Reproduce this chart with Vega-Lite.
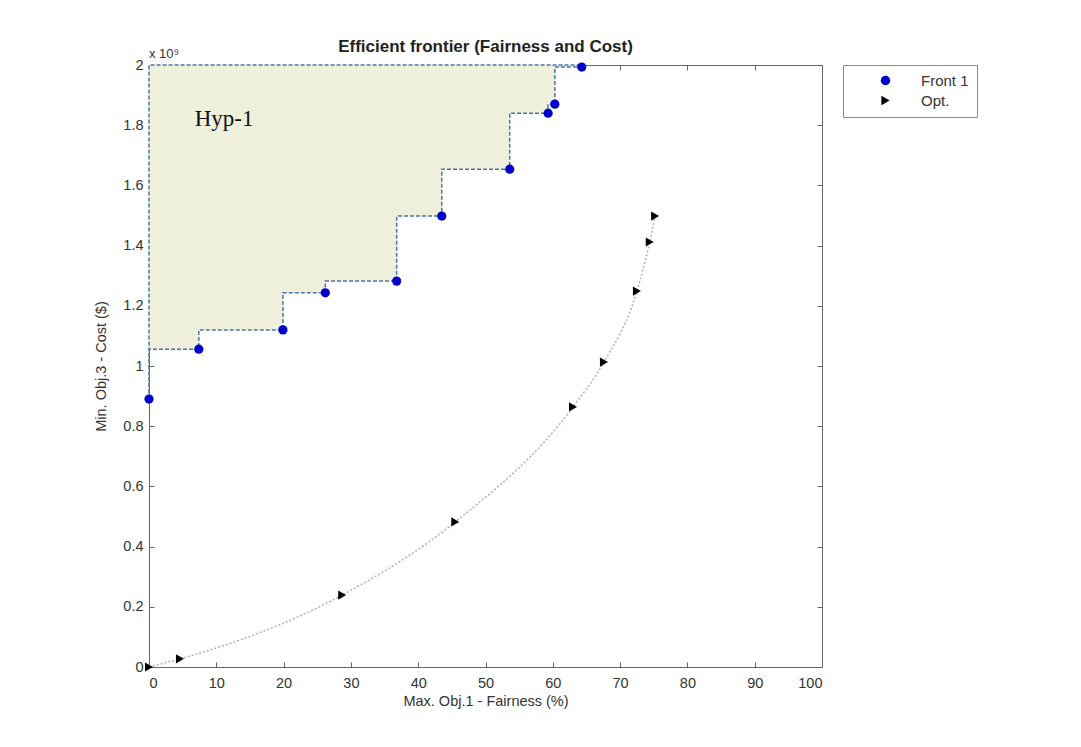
{
  "$schema": "https://vega.github.io/schema/vega-lite/v6.json",
  "autosize": "none",
  "width": 673,
  "height": 602,
  "padding": {"left": 149, "top": 65, "right": 259, "bottom": 80},
  "background": "white",
  "config": {
    "font": "Liberation Sans",
    "view": {"stroke": "#666", "strokeWidth": 1},
    "axis": {"grid": false, "domain": false, "tickColor": "#666", "tickSize": -5, "labelColor": "#333", "labelFontSize": 14.5, "titleFontSize": 14.5, "titleFontWeight": "normal", "titleColor": "#333", "labelFont": "Liberation Sans", "titleFont": "Liberation Sans"},
    "legend": {"offset": 20, "padding": 8, "strokeColor": "#888", "fillColor": "white", "labelFontSize": 15, "labelColor": "#333", "labelFont": "Liberation Sans", "symbolSize": 90, "symbolOffset": 27, "labelOffset": 28, "rowPadding": 4, "labelLimit": 200}
  },
  "title": {"text": "Efficient frontier (Fairness and Cost)", "fontSize": 17, "fontWeight": "bold", "font": "Liberation Sans", "color": "#222", "offset": -8},
  "datasets": {
    "front": [
      {"fairness": 0, "cost": 0.890, "series": "Front 1"},
      {"fairness": 7.4, "cost": 1.056, "series": "Front 1"},
      {"fairness": 19.9, "cost": 1.120, "series": "Front 1"},
      {"fairness": 26.2, "cost": 1.243, "series": "Front 1"},
      {"fairness": 36.8, "cost": 1.282, "series": "Front 1"},
      {"fairness": 43.5, "cost": 1.498, "series": "Front 1"},
      {"fairness": 53.6, "cost": 1.654, "series": "Front 1"},
      {"fairness": 59.3, "cost": 1.840, "series": "Front 1"},
      {"fairness": 60.3, "cost": 1.870, "series": "Front 1"},
      {"fairness": 64.3, "cost": 1.993, "series": "Front 1"}
    ],
    "opt": [
      {"fairness": 0, "cost": 0, "series": "Opt."},
      {"fairness": 4.6, "cost": 0.027, "series": "Opt."},
      {"fairness": 28.7, "cost": 0.239, "series": "Opt."},
      {"fairness": 45.5, "cost": 0.482, "series": "Opt."},
      {"fairness": 63.0, "cost": 0.864, "series": "Opt."},
      {"fairness": 67.6, "cost": 1.013, "series": "Opt."},
      {"fairness": 72.5, "cost": 1.249, "series": "Opt."},
      {"fairness": 74.4, "cost": 1.412, "series": "Opt."},
      {"fairness": 75.2, "cost": 1.498, "series": "Opt."}
    ],
    "labels": [
      {"fairness": 6.8, "cost": 1.82, "text": "Hyp-1", "kind": "hyp"},
      {"fairness": 0, "cost": 2, "text": "x 10⁹", "kind": "exp"}
    ]
  },
  "layer": [
    {
      "data": {"name": "front"},
      "mark": {"type": "area", "interpolate": "step-before", "fill": "#eef0dc", "stroke": "#4a74a8", "strokeWidth": 1.5, "strokeDash": [4, 2]},
      "encoding": {
        "x": {"field": "fairness", "type": "quantitative", "scale": {"domain": [0, 100], "nice": false}, "axis": {"orient": "bottom", "values": [0,10,20,30,40,50,60,70,80,90,100], "labelPadding": 14, "title": "Max. Obj.1 - Fairness (%)", "titlePadding": 5}},
        "y": {"field": "cost", "type": "quantitative", "scale": {"domain": [0, 2], "nice": false}, "axis": {"orient": "left", "values": [0,0.2,0.4,0.6,0.8,1,1.2,1.4,1.6,1.8,2], "format": "~g", "labelPadding": 11, "title": "Min. Obj.3 - Cost ($)", "titlePadding": 14}},
        "y2": {"datum": 2}
      }
    },
    {
      "data": {"name": "opt"},
      "mark": {"type": "line", "interpolate": "monotone", "color": "#b0b0b0", "strokeWidth": 1.5, "strokeDash": [2, 2]},
      "encoding": {
        "x": {"field": "fairness", "type": "quantitative", "axis": {"orient": "top", "values": [0,10,20,30,40,50,60,70,80,90,100], "labels": false, "title": null}},
        "y": {"field": "cost", "type": "quantitative", "axis": {"orient": "right", "values": [0,0.2,0.4,0.6,0.8,1,1.2,1.4,1.6,1.8,2], "labels": false, "title": null}}
      }
    },
    {
      "data": {"name": "front"},
      "mark": {"type": "point", "filled": true, "size": 85, "opacity": 1},
      "encoding": {
        "x": {"field": "fairness", "type": "quantitative", "axis": null},
        "y": {"field": "cost", "type": "quantitative", "axis": null},
        "color": {"field": "series", "type": "nominal", "scale": {"domain": ["Front 1", "Opt."], "range": ["#0000cc", "#000000"]}, "legend": {"title": null}},
        "shape": {"field": "series", "type": "nominal", "scale": {"domain": ["Front 1", "Opt."], "range": ["circle", "triangle-right"]}, "legend": {"title": null}}
      }
    },
    {
      "data": {"name": "opt"},
      "mark": {"type": "point", "filled": true, "size": 85, "opacity": 1},
      "encoding": {
        "x": {"field": "fairness", "type": "quantitative", "axis": null},
        "y": {"field": "cost", "type": "quantitative", "axis": null},
        "color": {"field": "series", "type": "nominal"},
        "shape": {"field": "series", "type": "nominal"}
      }
    },
    {
      "data": {"name": "labels"},
      "transform": [{"filter": "datum.kind === 'hyp'"}],
      "mark": {"type": "text", "font": "Liberation Serif", "fontSize": 23, "align": "left", "baseline": "middle", "color": "#111"},
      "encoding": {
        "x": {"field": "fairness", "type": "quantitative", "axis": null},
        "y": {"field": "cost", "type": "quantitative", "axis": null},
        "text": {"field": "text"}
      }
    },
    {
      "data": {"name": "labels"},
      "transform": [{"filter": "datum.kind === 'exp'"}],
      "mark": {"type": "text", "font": "Liberation Sans", "fontSize": 13, "align": "left", "baseline": "bottom", "dy": -4, "color": "#333"},
      "encoding": {
        "x": {"field": "fairness", "type": "quantitative", "axis": null},
        "y": {"field": "cost", "type": "quantitative", "axis": null},
        "text": {"field": "text"}
      }
    }
  ],
  "resolve": {"axis": {"x": "independent", "y": "independent"}}
}
